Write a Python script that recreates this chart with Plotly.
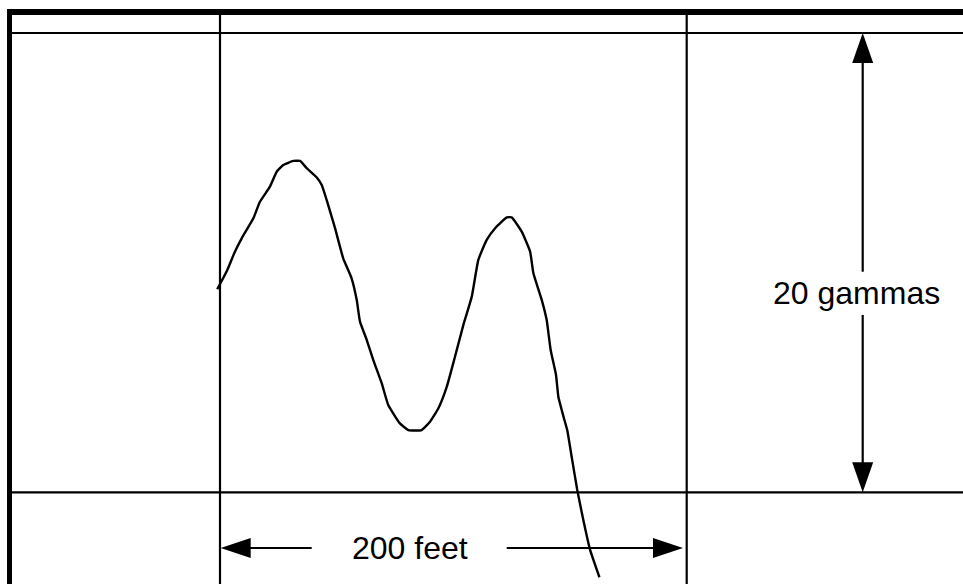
import plotly.graph_objects as go

# ---- data: magnetometer trace (distance in feet, field in gammas) ----
distance_ft = [-1.2, 3.0, 6.4, 9.3, 14.3, 17.1, 21.4, 24.3, 27.1, 31.4, 34.3, 37.2, 41.4,
               43.6, 45.7, 49.3, 52.8, 56.4, 58.6, 60.0, 62.9, 65.7, 69.3, 72.1, 77.1,
               80.7, 86.4, 90.0, 93.6, 97.2, 100.7, 104.3, 107.9, 110.7, 114.3, 117.9,
               122.9, 125.0, 129.3, 132.9, 134.3, 137.9, 140.0, 141.7, 144.0, 145.0,
               147.4, 148.8, 150.7, 153.1, 155.7, 158.6, 162.6]
field_gamma = [8.84, 9.65, 10.48, 11.06, 11.93, 12.65, 13.31, 13.96, 14.25, 14.43, 14.43,
               14.11, 13.72, 13.38, 12.73, 11.50, 10.19, 9.32, 8.37, 7.43, 6.63, 5.76,
               4.75, 3.80, 3.00, 2.71, 2.71, 3.07, 3.66, 4.60, 5.90, 7.29, 8.52, 10.12,
               10.99, 11.50, 11.97, 11.97, 11.35, 10.48, 9.54, 8.37, 7.50, 6.20, 5.11,
               4.16, 3.22, 2.71, 1.55, 0.10, -1.21, -2.51, -3.70]

grid_ft = [0, 200]          # vertical chart lines
grid_gamma = [0, 20]        # horizontal chart lines
scale_gamma_label = "20 gammas"
scale_ft_label = "200 feet"

# ---- layout geometry ----
W, H = 963, 584
PX_PER_FT = 2.3335
PX_PER_G = 22.965
ORIG_PX = (220.0, 492.3)
X0 = -ORIG_PX[0] / PX_PER_FT
X1 = (W - ORIG_PX[0]) / PX_PER_FT
Y0 = -(H - ORIG_PX[1]) / PX_PER_G
Y1 = ORIG_PX[1] / PX_PER_G


def fx(px):
    return (px - ORIG_PX[0]) / PX_PER_FT


def fy(py):
    return (ORIG_PX[1] - py) / PX_PER_G


def head(tx, ty, ux, uy, L=30, Wd=10.5):
    bx, by = -ux * L, -uy * L
    qx, qy = -uy * Wd, ux * Wd
    pts = [(0, 0), (bx + qx, by + qy), (bx - qx, by - qy)]
    return "M " + " L ".join(f"{tx + a / PX_PER_FT},{ty + b / PX_PER_G}" for a, b in pts) + " Z"


fig = go.Figure()
fig.add_trace(go.Scatter(x=distance_ft, y=field_gamma, mode="lines",
                         line=dict(color="black", width=2.4, shape="spline", smoothing=0.4),
                         hoverinfo="skip", showlegend=False))

shapes = []
ln = dict(color="black", width=2.2)
top_y = fy(12)
left_x = fx(9.5)
# thick border lines
shapes.append(dict(type="line", x0=left_x, x1=X1, y0=top_y, y1=top_y,
                   line=dict(color="black", width=6)))
shapes.append(dict(type="line", x0=left_x, x1=left_x, y0=fy(9), y1=Y0,
                   line=dict(color="black", width=5)))
for g in grid_gamma:
    shapes.append(dict(type="line", x0=left_x, x1=X1, y0=g, y1=g, line=ln))
for f in grid_ft:
    shapes.append(dict(type="line", x0=f, x1=f, y0=fy(15), y1=Y0, line=ln))

# vertical scale arrow
ax_ft = fx(862.7)
g_top, g_bot = grid_gamma[1], grid_gamma[0]
shapes.append(dict(type="line", x0=ax_ft, x1=ax_ft, y0=g_top - 28 / PX_PER_G, y1=fy(271.7), line=ln))
shapes.append(dict(type="line", x0=ax_ft, x1=ax_ft, y0=fy(315), y1=g_bot + 28 / PX_PER_G, line=ln))
shapes.append(dict(type="path", path=head(ax_ft, g_top, 0, 1), fillcolor="black", line=dict(width=0)))
shapes.append(dict(type="path", path=head(ax_ft, g_bot, 0, -1), fillcolor="black", line=dict(width=0)))

# horizontal scale arrow
ay_g = fy(548)
left_tip, right_tip = fx(220.7), fx(683)
shapes.append(dict(type="line", x0=left_tip + 28 / PX_PER_FT, x1=fx(311.7), y0=ay_g, y1=ay_g, line=ln))
shapes.append(dict(type="line", x0=fx(506.7), x1=right_tip - 28 / PX_PER_FT, y0=ay_g, y1=ay_g, line=ln))
shapes.append(dict(type="path", path=head(left_tip, ay_g, -1, 0, Wd=10), fillcolor="black", line=dict(width=0)))
shapes.append(dict(type="path", path=head(right_tip, ay_g, 1, 0, Wd=10), fillcolor="black", line=dict(width=0)))

font = dict(family="Liberation Sans, Arial, sans-serif", size=32, color="black")
annotations = [
    dict(x=fx(856.4), y=fy(292.5), text=scale_gamma_label, showarrow=False,
         xanchor="center", yanchor="middle", font=font),
    dict(x=fx(410), y=fy(548.3), text=scale_ft_label, showarrow=False,
         xanchor="center", yanchor="middle", font=font),
]

fig.update_layout(
    width=W, height=H, margin=dict(l=0, r=0, t=0, b=0),
    paper_bgcolor="white", plot_bgcolor="white",
    xaxis=dict(range=[X0, X1], visible=False, fixedrange=True),
    yaxis=dict(range=[Y0, Y1], visible=False, fixedrange=True),
    shapes=shapes, annotations=annotations, showlegend=False,
)

fig.write_html("out.html", config={"displayModeBar": False},
               post_script="document.body.style.margin='0';document.body.style.overflow='hidden';")
